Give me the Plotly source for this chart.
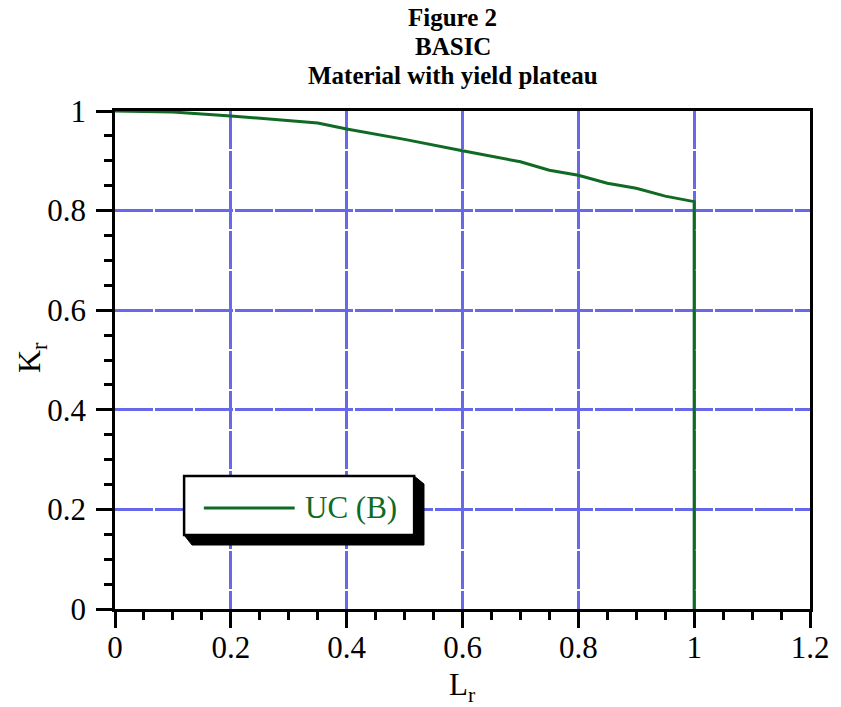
import plotly.graph_objects as go

# Data
lr = [0.0, 0.1, 0.2, 0.35, 0.4, 0.5, 0.6, 0.7, 0.75, 0.8, 0.85, 0.9, 0.95, 1.0, 1.0]
kr = [1.0, 0.998, 0.99, 0.976, 0.964, 0.943, 0.92, 0.898, 0.881, 0.871, 0.855, 0.845, 0.829, 0.818, 0.0]
series_name = "UC (B)"
title_lines = ["Figure 2", "BASIC", "Material with yield plateau"]
x_ticks = [0, 0.2, 0.4, 0.6, 0.8, 1, 1.2]
x_tick_text = ["0", "0.2", "0.4", "0.6", "0.8", "1", "1.2"]
y_ticks = [0, 0.2, 0.4, 0.6, 0.8, 1]
y_tick_text = ["0", "0.2", "0.4", "0.6", "0.8", "1"]
x_title = "L<sub>r</sub>"
y_title = "K<sub>r</sub>"

GREEN = "#0f6a24"
GRID = "#6868ea"
FONT = "Liberation Serif"

W, H = 841, 707
L, R, T, B = 115, 22, 111, 98
pw, ph = W - L - R, H - T - B

def px(x):
    return (x - L) / pw

def py(y):
    return (H - B - y) / ph

fig = go.Figure()
fig.add_trace(go.Scatter(x=lr, y=kr, mode="lines", name=series_name,
                         line=dict(color=GREEN, width=3), showlegend=False))

axis_common = dict(
    showline=True, linecolor="black", linewidth=2.5, mirror=True,
    ticks="outside", ticklen=16, tickwidth=2.5, tickcolor="black",
    showgrid=True, gridcolor=GRID, gridwidth=3, griddash="38px,2px",
    zeroline=False,
    tickfont=dict(family=FONT, size=31, color="black"),
)
minor = dict(dtick=0.05, ticks="outside", ticklen=8, tickwidth=2.5, tickcolor="black", showgrid=False)

fig.update_xaxes(range=[0, 1.2], tickvals=x_ticks, ticktext=x_tick_text, minor=minor,
                 ticklabelstandoff=-7, **axis_common)
fig.update_yaxes(range=[0, 1], tickvals=y_ticks, ticktext=y_tick_text, minor=minor,
                 ticklabelstandoff=4, **axis_common)

annotations = []
for i, t in enumerate(title_lines):
    annotations.append(dict(text="<b>%s</b>" % t, xref="paper", yref="paper",
                            x=px(457), y=py(18 + 28.5 * i), showarrow=False,
                            xanchor="center", yanchor="middle",
                            font=dict(family=FONT, size=25, color="black")))

# axis titles
annotations.append(dict(text=x_title, xref="paper", yref="paper", x=px(467), y=py(687),
                        xanchor="center", yanchor="middle", showarrow=False,
                        font=dict(family=FONT, size=31, color="black")))
annotations.append(dict(text=y_title, xref="paper", yref="paper", x=px(30), y=py(358),
                        xanchor="center", yanchor="middle", showarrow=False, textangle=-90,
                        font=dict(family=FONT, size=32, color="black")))

# manual legend box with drop shadow
bx0, bx1, by0, by1 = 185, 418, 476, 535
shapes = [
    dict(type="path", xref="paper", yref="paper",
         path="M %f %f L %f %f L %f %f L %f %f L %f %f L %f %f Z" % (
             px(bx1), py(by0), px(bx1 + 10), py(by0 + 8), px(bx1 + 10), py(by1 + 10),
             px(bx0 + 8), py(by1 + 10), px(bx0), py(by1), px(bx1), py(by1)),
         fillcolor="black", line=dict(color="black", width=1), layer="above"),
    dict(type="rect", xref="paper", yref="paper", x0=px(bx0), x1=px(bx1), y0=py(by1), y1=py(by0),
         fillcolor="white", line=dict(color="black", width=2.5), layer="above"),
    dict(type="line", xref="paper", yref="paper", x0=px(205), x1=px(297), y0=py(508), y1=py(508),
         line=dict(color=GREEN, width=3), layer="above"),
]
annotations.append(dict(text=series_name, xref="paper", yref="paper", x=px(305), y=py(507),
                        xanchor="left", yanchor="middle", showarrow=False,
                        font=dict(family=FONT, size=31, color=GREEN)))

fig.update_layout(
    width=W, height=H, margin=dict(l=L, r=R, t=T, b=B),
    paper_bgcolor="white", plot_bgcolor="white",
    shapes=shapes, annotations=annotations, showlegend=False,
)

fig.write_html("out.html")
